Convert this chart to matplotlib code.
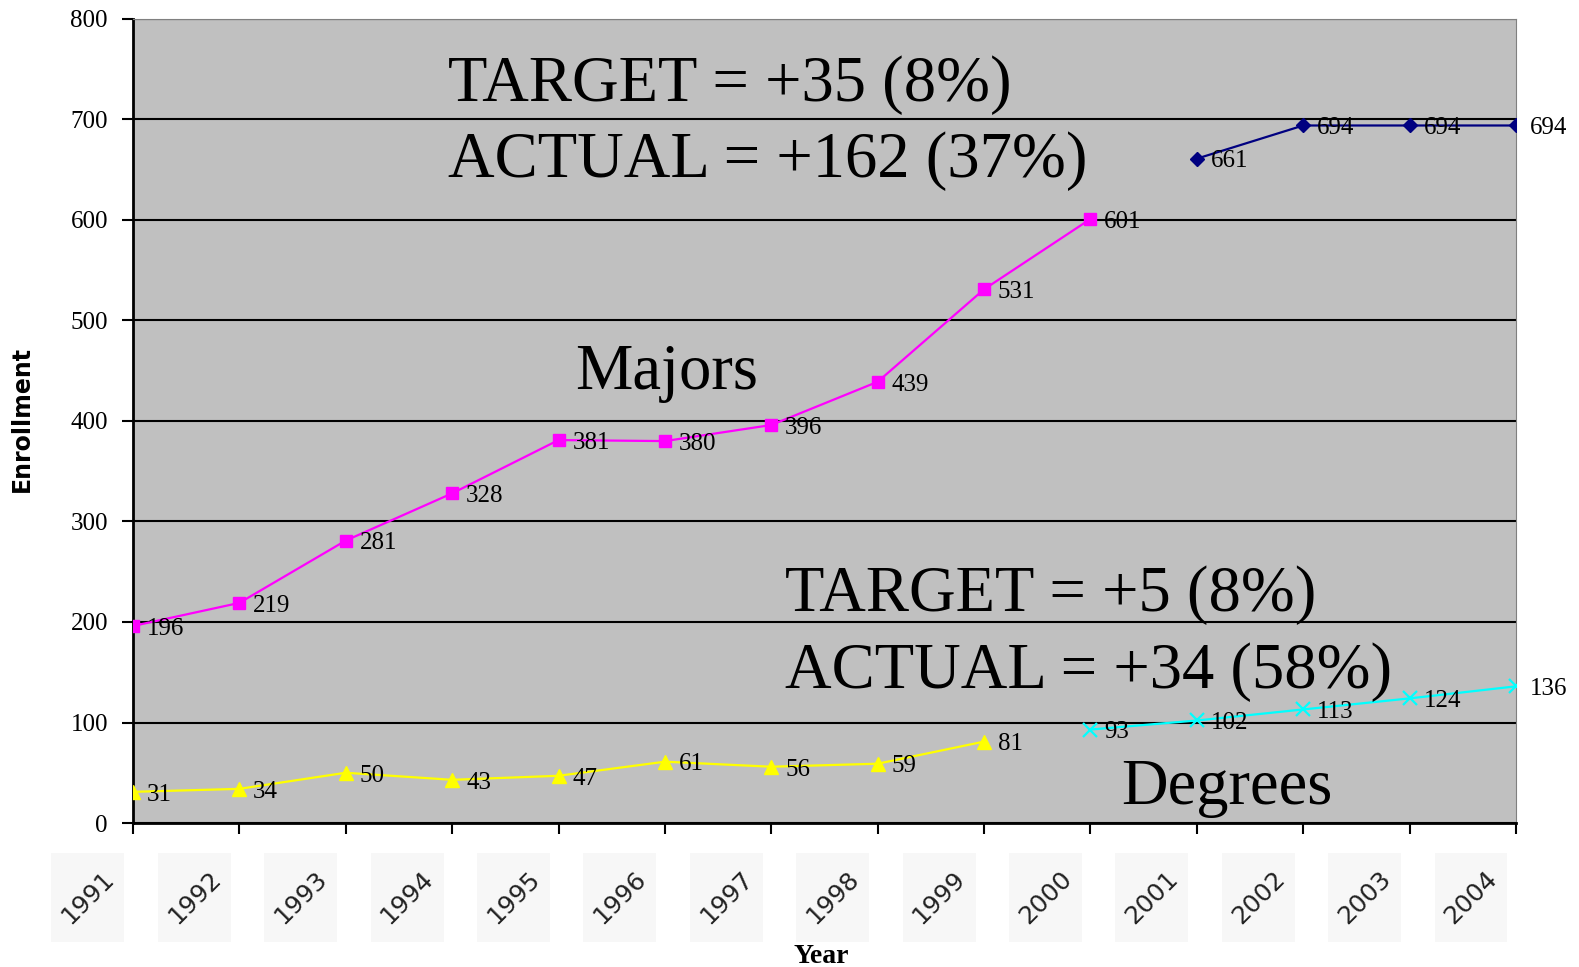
import matplotlib.pyplot as plt
from matplotlib.patches import Rectangle

years = list(range(1991, 2005))

majors_years = list(range(1991, 2001))
majors = [196, 219, 281, 328, 381, 380, 396, 439, 531, 601]
majors_new_years = list(range(2001, 2005))
majors_new = [661, 694, 694, 694]

degrees_years = list(range(1991, 2000))
degrees = [31, 34, 50, 43, 47, 61, 56, 59, 81]
degrees_new_years = list(range(2000, 2005))
degrees_new = [93, 102, 113, 124, 136]

serif = ['Liberation Serif', 'DejaVu Serif']

fig = plt.figure(figsize=(15.79, 9.67), dpi=100)
ax = fig.add_axes([0.0842, 0.1489, 0.8759, 0.8315])
ax.set_facecolor('#c0c0c0')

ax.plot(majors_years, majors, c='#ff00ff', lw=1.6, marker='s', ms=8, zorder=3)
ax.plot(majors_new_years, majors_new, c='#000080', lw=1.6, marker='D', ms=7, zorder=3)
ax.plot(degrees_years, degrees, c='#ffff00', lw=1.6, marker='^', ms=10, zorder=3)
ax.plot(degrees_new_years, degrees_new, c='#00ffff', lw=1.6, marker='x', ms=10,
        mew=1.6, zorder=3)

# data labels to the right of each point
for xs, ys in [(majors_years, majors), (majors_new_years, majors_new),
               (degrees_years, degrees), (degrees_new_years, degrees_new)]:
    for x, y in zip(xs, ys):
        ax.annotate(str(y), (x, y), xytext=(10, -2), textcoords='offset points',
                    va='center', ha='left', fontsize=18, family=serif,
                    annotation_clip=False, zorder=4)

# Format plot
ax.axis([1991, 2004, 0, 800])
ax.set_yticks(range(0, 801, 100))
ax.set_xticks(years)
ax.set_xticklabels([])
ax.tick_params(axis='y', labelsize=18, length=8, width=1.5, direction='out', pad=10)
ax.tick_params(axis='x', length=8, width=1.5, direction='out')
for lab in ax.get_yticklabels():
    lab.set_family(serif)
ax.grid(axis='y', color='black', lw=1.5)
ax.set_axisbelow(True)
ax.spines['left'].set_linewidth(2)
ax.spines['bottom'].set_linewidth(2)
ax.spines['top'].set_color('#808080')
ax.spines['right'].set_color('#808080')

# boxed, rotated year labels
tr = ax.get_xaxis_transform()
for yr in years:
    ax.add_patch(Rectangle((yr - 0.766, -0.148), 0.686, 0.111, transform=tr,
                           facecolor='#f7f7f7', edgecolor='none', clip_on=False))
    ax.text(yr - 0.423, -0.0925, str(yr), transform=tr, rotation=45,
            ha='center', va='center', fontsize=18, color='#222222',
            family='DejaVu Sans', rotation_mode='anchor')

big = dict(fontsize=46.5, family=serif, va='baseline', ha='left')
ax.text(1993.96, 718, 'TARGET = +35 (8%)', **big)
ax.text(1993.96, 643, 'ACTUAL = +162 (37%)', **big)
ax.text(1995.16, 432, 'Majors', **big)
ax.text(1997.13, 211, 'TARGET = +5 (8%)', **big)
ax.text(1997.13, 134, 'ACTUAL = +34 (58%)', **big)
ax.text(2000.29, 19, 'Degrees', **big)

fig.text(0.014, 0.567, 'Enrollment', rotation=90, ha='center', va='center',
         fontsize=17, fontweight='bold', family='DejaVu Sans')
fig.text(0.52, 0.011, 'Year', ha='center', va='center', fontsize=20,
         fontweight='bold', family=serif)

fig.savefig('out.png', dpi=100)
